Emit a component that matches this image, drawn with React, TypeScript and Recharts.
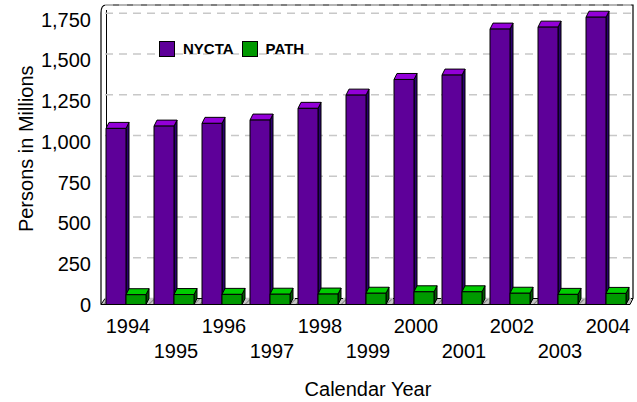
import React from 'react';
import { BarChart, Bar, XAxis, YAxis, CartesianGrid, Legend } from 'recharts';

const years = ['1994', '1995', '1996', '1997', '1998', '1999', '2000', '2001', '2002', '2003', '2004'];
const nyctaRiders = [1080, 1094, 1111, 1131, 1203, 1284, 1380, 1407, 1689, 1701, 1762];
const pathRiders = [60, 61, 62, 63, 64, 69, 78, 78, 69, 62, 68];
const yTicks = [0, 250, 500, 750, 1000, 1250, 1500, 1750];

const data = years.map((year, i) => ({ year, NYCTA: nyctaRiders[i], PATH: pathRiders[i] }));

const W = 637;
const H = 402;
const PLOT_LEFT = 105;
const PLOT_TOP = 5;
const PLOT_RIGHT = 633;
const PLOT_BOTTOM = 298.5;
const DX = 3;
const DY = 6;
const FONT = "Arial, 'Liberation Sans', Helvetica, sans-serif";

const PURPLE = { front: '#5e0099', top: '#9300d8', side: '#2c0070' };
const GREEN = { front: '#009900', top: '#00cc00', side: '#005a00' };

const make3D = (c: { front: string; top: string; side: string }) => (props: any) => {
  const { x, y, width, height } = props;
  if (width == null || height == null || isNaN(x) || isNaN(y)) return null;
  const fx = x - DX;
  const fy = y + DY;
  return (
    <g stroke="#000" strokeWidth={1} strokeLinejoin="round">
      <polygon
        points={`${fx + width},${fy} ${x + width},${y} ${x + width},${y + height} ${fx + width},${fy + height}`}
        fill={c.side}
      />
      <polygon points={`${fx},${fy} ${x},${y} ${x + width},${y} ${fx + width},${fy}`} fill={c.top} />
      <rect x={fx} y={fy} width={width} height={height} fill={c.front} />
    </g>
  );
};

const YTick = (props: any) => {
  const { x, y, payload } = props;
  return (
    <text x={x - 14} y={y + 13.5} textAnchor="end" fontFamily={FONT} fontSize={20} fill="#000">
      {Number(payload.value).toLocaleString('en-US')}
    </text>
  );
};

const XTick = (props: any) => {
  const { x, y, payload, index } = props;
  const row = index % 2 === 0 ? 34.5 : 59.5;
  return (
    <text x={x - 1} y={y + row} textAnchor="middle" fontFamily={FONT} fontSize={20} fill="#000">
      {payload.value}
    </text>
  );
};

const LegendContent = (props: any) => {
  const payload = props.payload || [];
  return (
    <div style={{ display: 'flex', alignItems: 'center', fontFamily: FONT, fontWeight: 'bold', fontSize: 15 }}>
      {payload.map((entry: any, i: number) => (
        <div key={i} style={{ display: 'flex', alignItems: 'center', marginRight: 8 }}>
          <div
            style={{
              width: 14,
              height: 14,
              background: entry.color,
              border: '1px solid #000',
              marginRight: 8,
            }}
          />
          <span style={{ color: '#000', lineHeight: '16px' }}>{entry.value}</span>
        </div>
      ))}
    </div>
  );
};

const Backdrop = () => (
  <svg width={W} height={H} style={{ position: 'absolute', left: 0, top: 0 }}>
    <defs>
      <pattern id="hatch" width="4" height="4" patternUnits="userSpaceOnUse" patternTransform="rotate(45)">
        <rect width="4" height="4" fill="#c4c4c4" />
        <line x1="0" y1="0" x2="0" y2="4" stroke="#6a6a6a" strokeWidth="1.4" />
      </pattern>
    </defs>
    <polygon
      points={`${PLOT_LEFT},${PLOT_BOTTOM} ${PLOT_RIGHT},${PLOT_BOTTOM} ${PLOT_RIGHT - DX},${PLOT_BOTTOM + DY} ${PLOT_LEFT - DX - 1},${PLOT_BOTTOM + DY}`}
      fill="url(#hatch)"
      stroke="#000"
      strokeWidth={1}
    />
    <path
      d={`M${PLOT_LEFT - 4},${PLOT_BOTTOM + DY} L${PLOT_LEFT - 4},13 Q${PLOT_LEFT - 4},${PLOT_TOP} ${PLOT_LEFT + 1},${PLOT_TOP} L${PLOT_RIGHT},${PLOT_TOP} L${PLOT_RIGHT},${PLOT_BOTTOM}`}
      fill="none"
      stroke="#000"
      strokeWidth={1.2}
    />
    <line x1={PLOT_LEFT + 1.5} y1={10} x2={PLOT_LEFT + 1.5} y2={PLOT_BOTTOM} stroke="#000" strokeWidth={1} />
    <text
      x={33}
      y={(PLOT_TOP + PLOT_BOTTOM) / 2 - 3}
      transform={`rotate(-90 33 ${(PLOT_TOP + PLOT_BOTTOM) / 2 - 3})`}
      textAnchor="middle"
      fontFamily={FONT}
      fontSize={20}
      fill="#000"
    >
      Persons in Millions
    </text>
    <text x={368} y={396} textAnchor="middle" fontFamily={FONT} fontSize={20} fill="#000">
      Calendar Year
    </text>
  </svg>
);

export default function App() {
  return (
    <div style={{ position: 'absolute', left: 0, top: 0, width: W, height: H, background: '#fff' }}>
      <Backdrop />
      <div style={{ position: 'absolute', left: 0, top: 0 }}>
        <BarChart
          width={W}
          height={H}
          data={data}
          margin={{ top: PLOT_TOP, right: W - PLOT_RIGHT, bottom: 0, left: 0 }}
          barGap={0}
          barSize={20}
        >
          <CartesianGrid
            horizontal
            vertical={false}
            stroke="#c8c8c8"
            strokeWidth={1.5}
            strokeDasharray="8 6"
          />
          <XAxis
            dataKey="year"
            axisLine={false}
            tickLine={false}
            tickSize={0}
            tickMargin={0}
            height={H - PLOT_BOTTOM}
            interval={0}
            tick={<XTick />}
          />
          <YAxis
            domain={[0, 1800]}
            ticks={yTicks}
            axisLine={false}
            tickLine={false}
            tickSize={0}
            tickMargin={0}
            width={PLOT_LEFT}
            tick={<YTick />}
          />
          <Legend
            layout="horizontal"
            verticalAlign="middle"
            align="center"
            content={<LegendContent />}
            wrapperStyle={{ position: 'absolute', left: 159, top: 41, width: 'auto', height: 16 }}
          />
          <Bar dataKey="NYCTA" name="NYCTA" fill={PURPLE.front} shape={make3D(PURPLE)} isAnimationActive={false} />
          <Bar dataKey="PATH" name="PATH" fill={GREEN.front} shape={make3D(GREEN)} isAnimationActive={false} />
        </BarChart>
      </div>
    </div>
  );
}
